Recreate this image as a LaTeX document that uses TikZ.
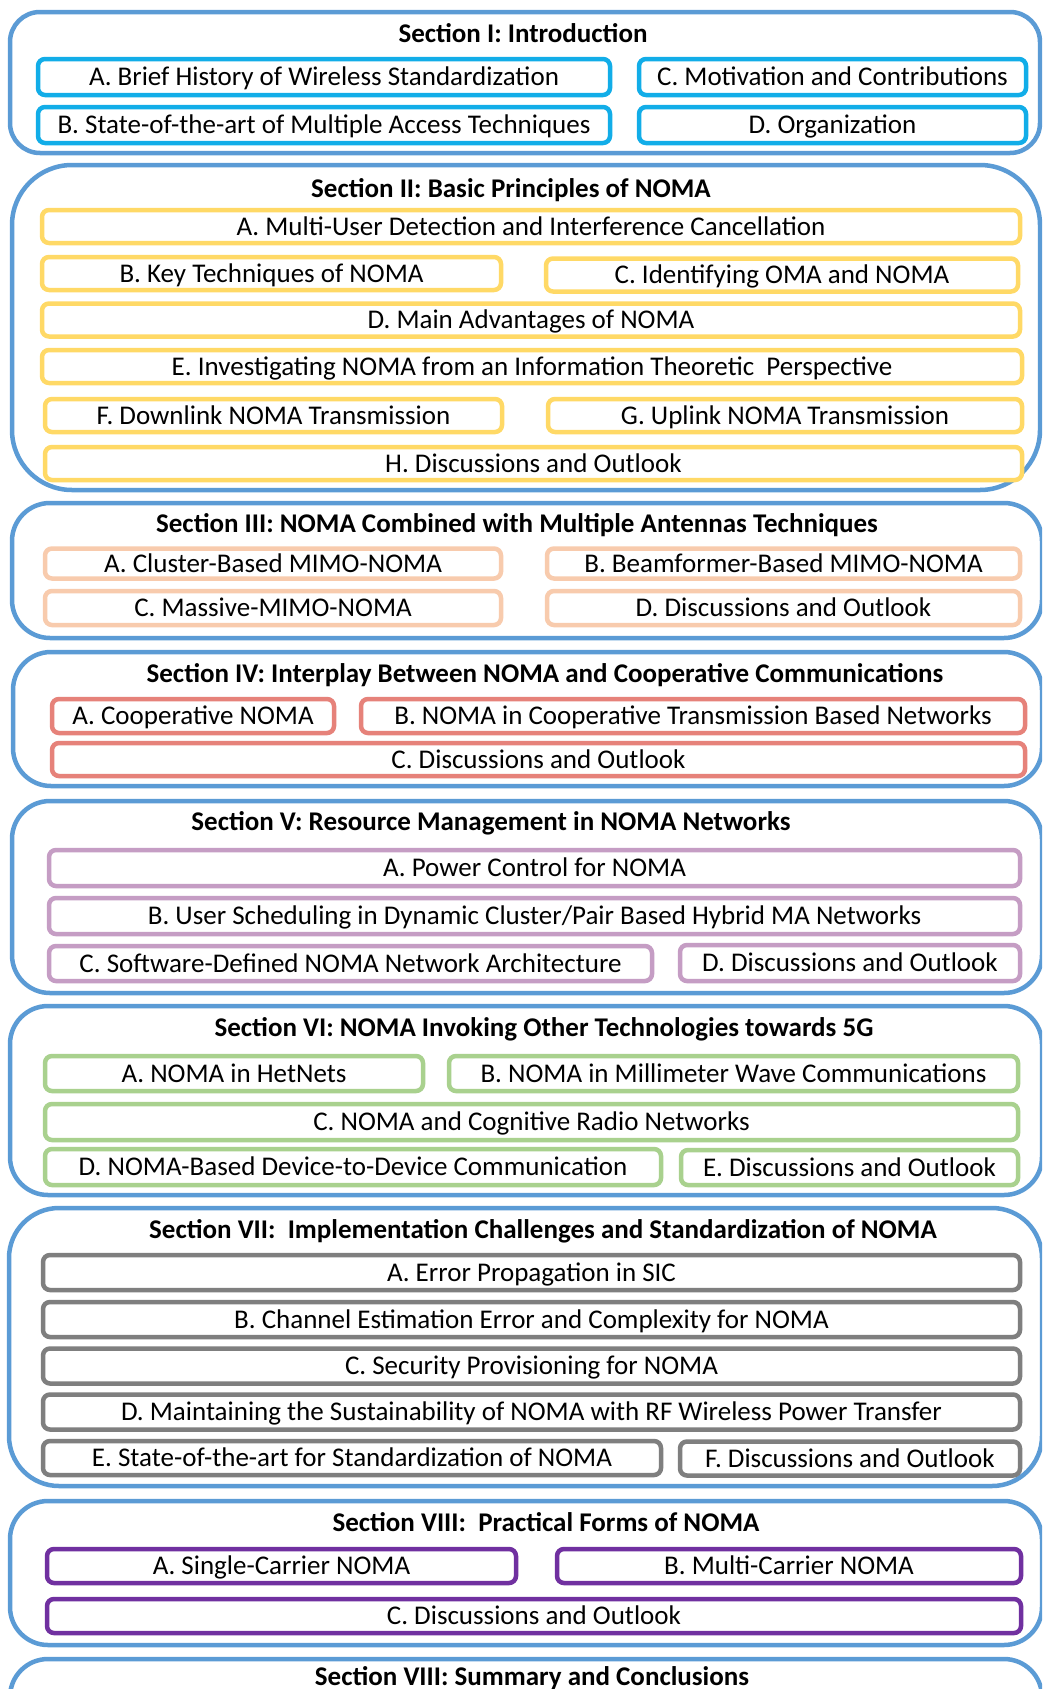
\documentclass[tikz,border=0pt]{standalone}
\usepackage{fontspec}
\setmainfont{Carlito}
\definecolor{outerblue}{HTML}{5B9BD5}
\definecolor{cI}{HTML}{12ADE8}
\definecolor{cII}{HTML}{FFD966}
\definecolor{cIII}{HTML}{F8CBAD}
\definecolor{cIV}{HTML}{E6827A}
\definecolor{cV}{HTML}{C59DC4}
\definecolor{cVI}{HTML}{A9D18E}
\definecolor{cVII}{HTML}{7F7F7F}
\definecolor{cVIII}{HTML}{7030A0}
\tikzset{
  secbox/.style={draw=outerblue, line width=4.5pt, rounded corners=#1, fill=white},
  secbox/.default=32pt,
  sectitle/.style={font=\fontsize{27}{32}\selectfont\bfseries, inner sep=0pt, text height=17.4pt, text depth=0pt},
  itembox/.style={draw=#1, line width=4.5pt, rounded corners=7pt, fill=white, inner sep=0pt,
     font=\fontsize{27}{32}\selectfont, anchor=center, text height=17.4pt, text depth=0pt},
}
\newcommand\ib[7]{\node[itembox=#1, minimum width=#4pt, minimum height=#5pt] (#2) at (#3,#6) {#7};}
\begin{document}
\begin{tikzpicture}[x=1pt,y=-1pt]
\useasboundingbox (0,0) rectangle (1042,1689);
\clip (0,0) rectangle (1042,1689);
% outer section frames
\draw[secbox=30pt] (10,12) rectangle (1040,153);
\draw[secbox=60pt] (12,165) rectangle (1040,490);
\draw[secbox=38pt] (12,503) rectangle (1042,638);
\draw[secbox=38pt] (13,652) rectangle (1042,786);
\draw[secbox=38pt] (12,801) rectangle (1042,993);
\draw[secbox=38pt] (10,1006) rectangle (1042,1195);
\draw[secbox=50pt] (9,1208) rectangle (1042,1486);
\draw[secbox=38pt] (10,1501) rectangle (1042,1645);
\draw[secbox=38pt] (10,1659) rectangle (1042,1740);
% titles
\node[sectitle] (t1) at (523,34) {Section I: Introduction};
\node[sectitle] (t2) at (511,189) {Section II: Basic Principles of NOMA};
\node[sectitle] (t3) at (517,524) {Section III: NOMA Combined with Multiple Antennas Techniques};
\node[sectitle] (t4) at (545,674) {Section IV: Interplay Between NOMA and Cooperative Communications};
\node[sectitle] (t5) at (491,822) {Section V: Resource Management in NOMA Networks};
\node[sectitle] (t6) at (544,1028) {Section VI: NOMA Invoking Other Technologies towards 5G};
\node[sectitle] (t7) at (543,1230) {Section VII:~ Implementation Challenges and Standardization of NOMA};
\node[sectitle] (t8) at (546,1523) {Section VIII:~ Practical Forms of NOMA};
\node[sectitle] (t9) at (532,1677) {Section VIII: Summary and Conclusions};
% Section I
\ib{cI}{s1a}{324}{572}{36}{77}{A. Brief History of Wireless Standardization}
\ib{cI}{s1b}{324}{572}{36}{125}{B. State-of-the-art of Multiple Access Techniques}
\ib{cI}{s1c}{832.5}{387}{36}{77}{C. Motivation and Contributions}
\ib{cI}{s1d}{832.5}{387}{36}{125}{D. Organization}
% Section II
\ib{cII}{s2a}{531}{978}{33}{226.5}{A. Multi-User Detection and Interference Cancellation}
\ib{cII}{s2b}{271.5}{459}{33}{273.5}{B. Key Techniques of NOMA}
\ib{cII}{s2c}{782}{472}{33}{275}{C. Identifying OMA and NOMA}
\ib{cII}{s2d}{531}{978}{33}{320}{D. Main Advantages of NOMA}
\ib{cII}{s2e}{532}{980}{33}{366.5}{E. Investigating NOMA from an Information Theoretic~ Perspective}
\ib{cII}{s2f}{273.5}{457}{33}{415.5}{F. Downlink NOMA Transmission}
\ib{cII}{s2g}{785}{474}{33}{415.5}{G. Uplink NOMA Transmission}
\ib{cII}{s2h}{533.5}{977}{33}{463.5}{H. Discussions and Outlook}
% Section III
\ib{cIII}{s3a}{273}{456}{30}{563.5}{A. Cluster-Based MIMO-NOMA}
\ib{cIII}{s3b}{783.5}{473}{30}{563.5}{B. Beamformer-Based MIMO-NOMA}
\ib{cIII}{s3c}{273}{456}{34}{608}{C. Massive-MIMO-NOMA}
\ib{cIII}{s3d}{783.5}{473}{34}{608}{D. Discussions and Outlook}
% Section IV
\ib{cIV}{s4a}{193}{282}{34}{716}{A. Cooperative NOMA}
\ib{cIV}{s4b}{693}{664}{34}{716}{B. NOMA in Cooperative Transmission Based Networks}
\ib{cIV}{s4c}{538.5}{973}{33}{759.5}{C. Discussions and Outlook}
% Section V
\ib{cV}{s5a}{534.5}{971}{36}{868}{A. Power Control for NOMA}
\ib{cV}{s5b}{534.5}{971}{36}{916}{B. User Scheduling in Dynamic Cluster/Pair Based Hybrid MA Networks}
\ib{cV}{s5c}{350.5}{603}{35}{963.5}{C. Software-Defined NOMA Network Architecture}
\ib{cV}{s5d}{850}{340}{36}{963}{D. Discussions and Outlook}
% Section VI
\ib{cVI}{s6a}{234}{378}{35}{1073.5}{A. NOMA in HetNets}
\ib{cVI}{s6b}{733.5}{569}{35}{1073.5}{B. NOMA in Millimeter Wave Communications}
\ib{cVI}{s6c}{531.5}{973}{36}{1122}{C. NOMA and Cognitive Radio Networks}
\ib{cVI}{s6d}{353}{616}{36}{1167}{D. NOMA-Based Device-to-Device Communication}
\ib{cVI}{s6e}{849.5}{337}{35}{1167.5}{E. Discussions and Outlook}
% Section VII
\ib{cVII}{s7a}{531.5}{977}{35}{1272.5}{A. Error Propagation in SIC}
\ib{cVII}{s7b}{531.5}{977}{35}{1319.5}{B. Channel Estimation Error and Complexity for NOMA}
\ib{cVII}{s7c}{531.5}{977}{35}{1366}{C. Security Provisioning for NOMA}
\ib{cVII}{s7d}{531.5}{977}{35}{1412}{D. Maintaining the Sustainability of NOMA with RF Wireless Power Transfer}
\ib{cVII}{s7e}{352}{618}{34}{1458}{E. State-of-the-art for Standardization of NOMA}
\ib{cVII}{s7f}{850}{340}{34}{1458.5}{F. Discussions and Outlook}
% Section VIII
\ib{cVIII}{s8a}{281.5}{469}{34}{1566}{A. Single-Carrier NOMA}
\ib{cVIII}{s8b}{789}{464}{34}{1566}{B. Multi-Carrier NOMA}
\ib{cVIII}{s8c}{534}{974}{34}{1616}{C. Discussions and Outlook}
\end{tikzpicture}
\end{document}
